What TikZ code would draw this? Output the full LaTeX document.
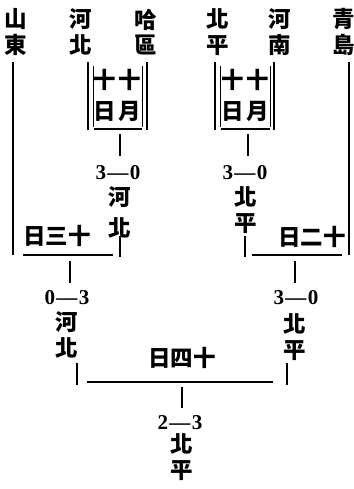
\documentclass[tikz,border=0pt]{standalone}
\usepackage{fontspec}
\newfontfamily\cjk{Noto Sans CJK TC}
\newfontfamily\numfont{Liberation Serif}
\tikzset{
  team/.style={font=\cjk\bfseries\fontsize{16}{18}\selectfont,align=center,inner sep=0pt},
  daybox/.style={font=\cjk\bfseries\fontsize{16}{22}\selectfont,align=center,inner sep=0pt},
  dayline/.style={font=\cjk\bfseries\fontsize{16}{16}\selectfont,inner sep=0pt},
  score/.style={font=\numfont\bfseries\fontsize{15}{15}\selectfont,inner sep=0pt},
  bar/.style={black,line width=1.2pt},
  rim/.style={black,line width=0.6pt}
}
\newcommand{\result}[2]{#1\kern1pt\textemdash\kern1pt#2}

\begin{document}
\begin{tikzpicture}[x=0.25mm,y=-0.25mm]
\useasboundingbox (0,0) rectangle (354,489);

%teams on top
\node[team] (sd) at (16,32) {山\\東};
\node[team] (hb) at (81,32) {河\\北};
\node[team] (hq) at (146,32) {哈\\區};
\node[team] (bp) at (218,32) {北\\平};
\node[team] (hn) at (280,32) {河\\南};
\node[team] (qd) at (344,32) {青\\島};

%team lines
\foreach \n/\x/\y in {sd/13/255, hb/88/130, hq/147/130, bp/215/130, hn/274/130, qd/349/255}
	{
	\coordinate (\n-a) at (\x,62);
	\coordinate (\n-b) at (\x,\y);
	\draw[bar] (\n-a) -- (\n-b);
	}

%first round, two boxes
\foreach \m/\l/\r/\c in {ma/93/142/117, mb/220/270/245}
	{
	\draw[rim] (\l,66) -- (\l,127);
	\draw[rim] (\r,66) -- (\r,127);
	\coordinate (\m-l) at (\l+1,129);
	\coordinate (\m-r) at (\r,129);
	\draw[bar] (\m-l) -- (\m-r);
	\node[daybox] (\m-day) at (\c,95) {十\hspace{2pt}十\\日\hspace{2pt}月};
	\coordinate (\m-u) at (\c+3,134);
	\coordinate (\m-d) at (\c+3,156);
	\draw[bar] (\m-u) -- (\m-d);
	}
\node[score] (ma-score) at (118,173) {\result{3}{0}};
\node[team,font=\cjk\bfseries\fontsize{16}{22}\selectfont] (ma-win) at (120,212) {河\\北};
\node[score] (mb-score) at (245,173) {\result{3}{0}};
\node[team] (mb-win) at (246,210) {北\\平};
\coordinate (ma-x) at (120,236); \coordinate (ma-y) at (120,257);
\coordinate (mb-x) at (245,236); \coordinate (mb-y) at (245,257);
\draw[bar] (ma-x) -- (ma-y);
\draw[bar] (mb-x) -- (mb-y);

%second round
\node[dayline] (mc-day) at (57,236) {日三十};
\coordinate (mc-l) at (23,255); \coordinate (mc-r) at (113,255);
\draw[bar] (mc-l) -- (mc-r);
\coordinate (mc-u) at (70,261); \coordinate (mc-d) at (70,283);
\draw[bar] (mc-u) -- (mc-d);
\node[score] (mc-score) at (67,298) {\result{0}{3}};
\node[team] (mc-win) at (67,335) {河\\北};
\coordinate (mc-x) at (77,363); \coordinate (mc-y) at (77,385);
\draw[bar] (mc-x) -- (mc-y);

\node[dayline] (md-day) at (312,237) {日二十};
\coordinate (md-l) at (252,255); \coordinate (md-r) at (342,255);
\draw[bar] (md-l) -- (md-r);
\coordinate (md-u) at (295,261); \coordinate (md-d) at (295,283);
\draw[bar] (md-u) -- (md-d);
\node[score] (md-score) at (296,298) {\result{3}{0}};
\node[team] (md-win) at (295,337) {北\\平};
\coordinate (md-x) at (287,363); \coordinate (md-y) at (287,385);
\draw[bar] (md-x) -- (md-y);

%final
\node[dayline] (me-day) at (182,358) {日四十};
\coordinate (me-l) at (87,382); \coordinate (me-r) at (273,382);
\draw[bar] (me-l) -- (me-r);
\coordinate (me-u) at (182,387); \coordinate (me-d) at (182,408);
\draw[bar] (me-u) -- (me-d);
\node[score] (me-score) at (180,423) {\result{2}{3}};
\node[team] (me-win) at (182,457) {北\\平};

\end{tikzpicture}
\end{document}
